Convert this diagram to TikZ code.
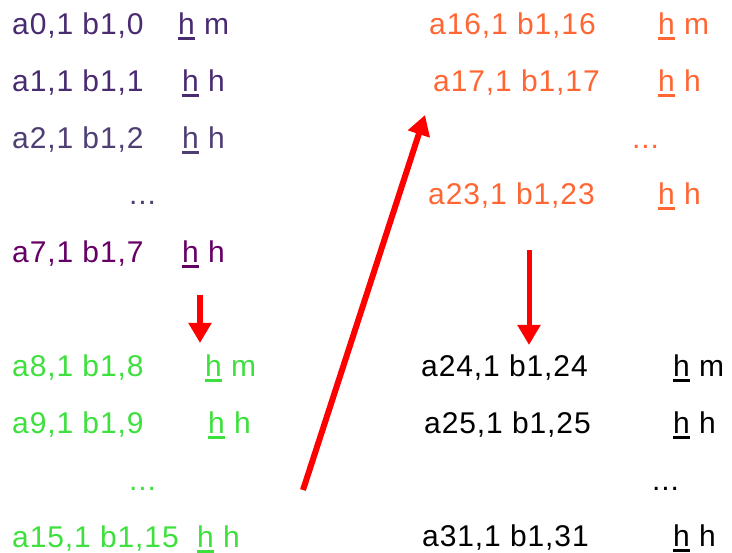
\documentclass[tikz,border=0pt]{standalone}
\usepackage{fontspec}
\setmainfont[LetterSpace=3]{Liberation Sans}
\usepackage{xcolor}
\usetikzlibrary{
    arrows.meta,
    positioning,
    calc
}
\definecolor{grpA}{HTML}{4A2B72}
\definecolor{grpB}{HTML}{4F3F74}
\definecolor{grpC}{HTML}{660066}
\definecolor{grpG}{HTML}{3DE03D}
\definecolor{grpO}{HTML}{FF6633}
\newcommand{\hu}[1]{\setbox0\hbox{#1}\rlap{\rule[-5pt]{\wd0}{2.6pt}}\box0\relax}
\newcommand{\fsz}{\fontsize{30}{35}\selectfont}

\begin{document}
\begin{tikzpicture}[x=1pt,y=-1pt,
    txt/.style={anchor=base west,inner sep=0pt,font=\fsz},
    bigarrow/.style={draw=red,line width=6pt,-{Triangle[width=22pt,length=20pt]}}]
                \useasboundingbox (0,0) rectangle (732,553);
                % first block, 0..7
                \foreach \n/\y/\hx/\c/\e in {0/35/178/grpA/m,1/92/182/grpA/h,2/149/182/grpB/h,7/263/182/grpC/h}
                    {\node[txt,text=\c] (a\n) at (12,\y) {a\n,1 b1,\n};
                     \node[txt,text=\c] (h\n) at (\hx,\y) {\hu{h} \e};}
                \node[txt,text=grpB] (dotsA) at (129,205) {...};
                % second block, 8..15
                \foreach \n/\y/\hx/\e in {8/377/205/m,9/434/208/h,15/548/197/h}
                    {\node[txt,text=grpG] (a\n) at (12,\y) {a\n,1 b1,\n};
                     \node[txt,text=grpG] (h\n) at (\hx,\y) {\hu{h} \e};}
                \node[txt,text=grpG] (dotsB) at (129,491) {...};
                % third block, 16..23
                \foreach \n/\y/\ax/\e in {16/35/429/m,17/92/433/h,23/205/428/h}
                    {\node[txt,text=grpO] (a\n) at (\ax,\y) {a\n,1 b1,\n};
                     \node[txt,text=grpO] (h\n) at (658,\y) {\hu{h} \e};}
                \node[txt,text=grpO] (dotsC) at (632,149) {...};
                % fourth block, 24..31
                \foreach \n/\y/\ax/\e in {24/377/421/m,25/434/424/h,31/547/422/h}
                    {\node[txt] (a\n) at (\ax,\y) {a\n,1 b1,\n};
                     \node[txt] (h\n) at (673,\y) {\hu{h} \e};}
                \node[txt] (dotsD) at (652,491) {...};
                % arrows
                \coordinate (s1) at (200,295);
                \coordinate (t1) at (200,343);
                \coordinate (s2) at (529,250);
                \coordinate (t2) at (529,345);
                \coordinate (s3) at (303,490);
                \coordinate (t3) at (425,115);
                \draw[bigarrow] (s1) -- (t1);
                \draw[bigarrow,line width=5pt] (s2) -- (t2);
                \draw[bigarrow] (s3) -- (t3);
            \end{tikzpicture}
\end{document}
